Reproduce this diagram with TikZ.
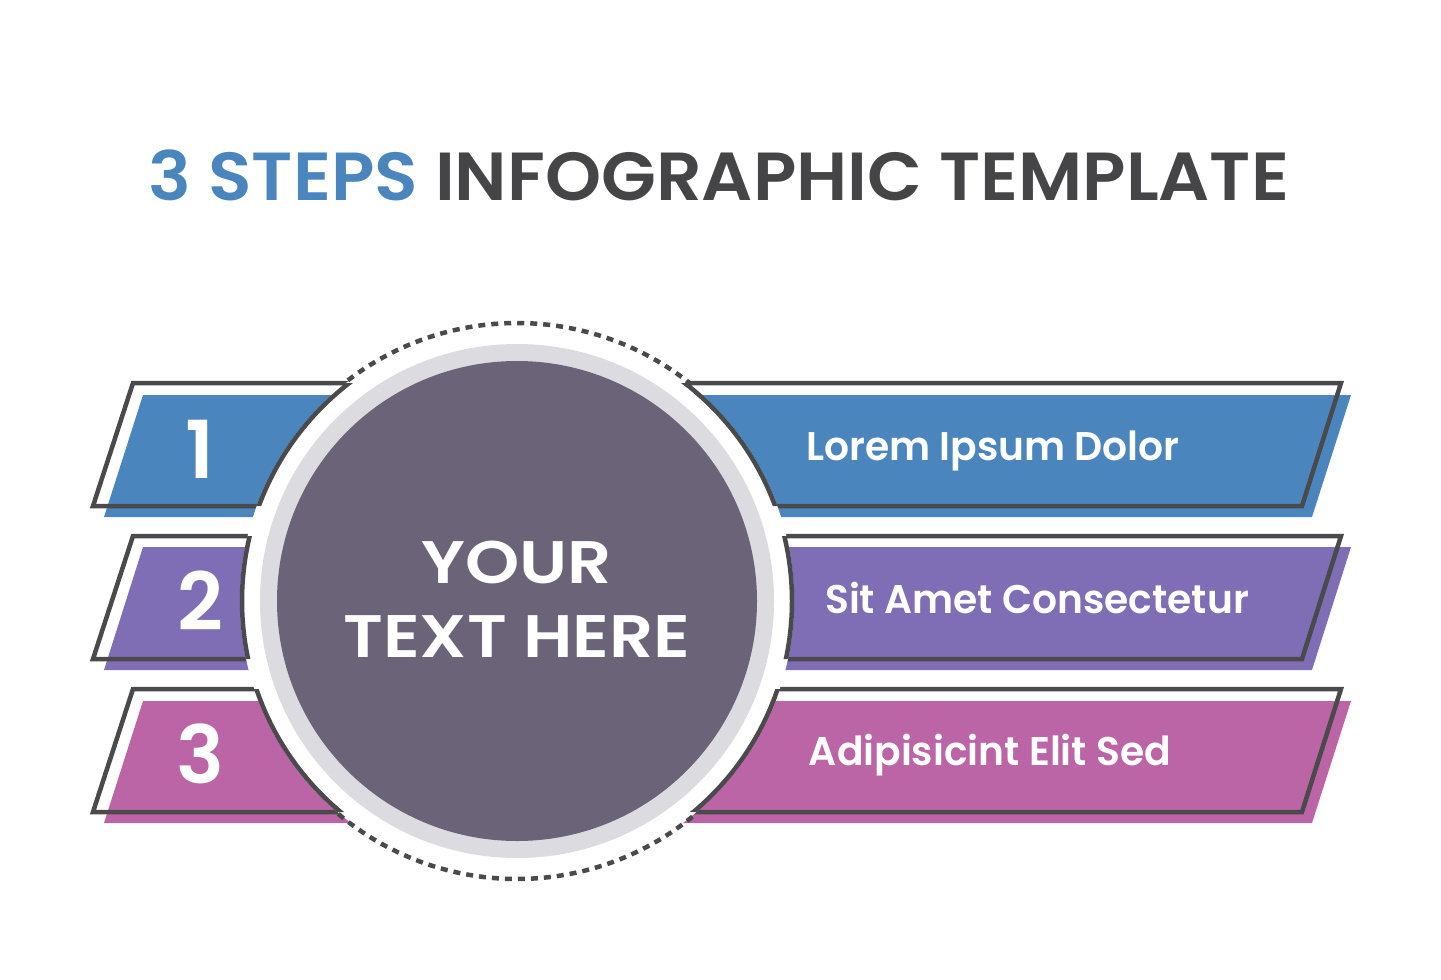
\documentclass[tikz,border=0pt]{standalone}
\usepackage{fontspec}
\setmainfont{Poppins}
\newfontfamily\semifont{Poppins SemiBold}
\newfontfamily\titlefont{Poppins SemiBold}[FakeStretch=1.05]
\newfontfamily\hubfont{Poppins SemiBold}[FakeStretch=1.15]
\newfontfamily\medfont{Poppins SemiBold}[FakeStretch=0.98]
\usepackage{tikz}

\definecolor{stepblue}{HTML}{4A86BD}
\definecolor{steppurple}{HTML}{7F6DB5}
\definecolor{stepmagenta}{HTML}{BB65A6}
\definecolor{hubfill}{HTML}{6B6479}
\definecolor{hubring}{HTML}{DCDCE0}
\definecolor{edge}{HTML}{4A4A4C}
\definecolor{titlegray}{HTML}{454547}

\begin{document}
\begin{tikzpicture}[x=1pt, y=-1pt,
    bandline/.style={draw=edge, line width=4.5pt, line join=miter},
    numtext/.style={text=white, font=\semifont\fontsize{80}{80}\selectfont, anchor=base, inner sep=0pt},
    steptext/.style={text=white, font=\medfont\fontsize{40}{40}\selectfont, anchor=base, inner sep=0pt},
    hubtext/.style={text=white, font=\hubfont\fontsize{60}{60}\selectfont, anchor=base, inner sep=0pt}]
  \useasboundingbox (0,0) rectangle (1441,980);
  \coordinate (hub) at (517,601);
  % title
  \node[anchor=base, inner sep=0pt, font=\titlefont\fontsize{68}{68}\selectfont] (title) at (719,200)
    {\textcolor{stepblue}{3 STEPS} \textcolor{titlegray}{INFOGRAPHIC TEMPLATE}};
  % coloured bands, shifted down right
  \fill[stepblue] (143,395) -- (1351,395) -- (1312,517) -- (104,517) -- cycle;
  \fill[steppurple] (143,547) -- (1351,547) -- (1312,670) -- (104,670) -- cycle;
  \fill[stepmagenta] (143,701) -- (1351,701) -- (1312,823) -- (104,823) -- cycle;
  % outlines
  \draw[bandline] (133,383) -- (1341,383) -- (1302,506) -- (93,506) -- cycle;
  \draw[bandline] (133,536) -- (1341,536) -- (1302,659) -- (93,659) -- cycle;
  \draw[bandline] (133,689) -- (1341,689) -- (1302,812) -- (93,812) -- cycle;
  % white disc cuts the bands
  \fill[white] (hub) circle[radius=277pt];
  % arc of the outline inside each band
  \begin{scope}
    \clip (133,383) -- (1341,383) -- (1302,506) -- (93,506) -- cycle;
    \draw[edge, line width=4.5pt] (hub) circle[radius=275pt];
  \end{scope}
  \begin{scope}
    \clip (133,536) -- (1341,536) -- (1302,659) -- (93,659) -- cycle;
    \draw[edge, line width=4.5pt] (hub) circle[radius=275pt];
  \end{scope}
  \begin{scope}
    \clip (133,689) -- (1341,689) -- (1302,812) -- (93,812) -- cycle;
    \draw[edge, line width=4.5pt] (hub) circle[radius=275pt];
  \end{scope}
  % dotted rim above and below
  \draw[edge, line width=4.5pt, dash pattern=on 7pt off 6pt]
    ([shift={(51:278pt)}]hub) arc[start angle=51, end angle=129, radius=278pt];
  \draw[edge, line width=4.5pt, dash pattern=on 7pt off 6pt]
    ([shift={(-130:278pt)}]hub) arc[start angle=-130, end angle=-50, radius=278pt];
  % hub
  \fill[hubring] (hub) circle[radius=257pt];
  \fill[hubfill] (hub) circle[radius=240pt];
  \node[hubtext] (your) at (517,583) {YOUR};
  \node[hubtext] (here) at (517,657) {TEXT HERE};
  % numbers
  \node[numtext] (n1) at (200,478) {1};
  \node[numtext] (n2) at (200,630) {2};
  \node[numtext] (n3) at (200,783) {3};
  % step labels
  \node[steptext] (s1) at (993,460) {Lorem Ipsum Dolor};
  \node[steptext] (s2) at (1037,613) {Sit Amet Consectetur};
  \node[steptext] (s3) at (990,765) {Adipisicint Elit Sed};
\end{tikzpicture}
\end{document}
